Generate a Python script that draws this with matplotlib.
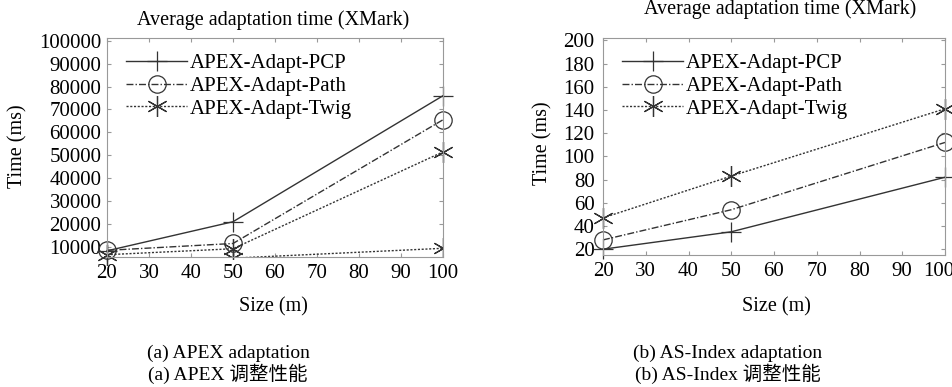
import numpy as np
import matplotlib
matplotlib.use('Agg')
import matplotlib.pyplot as plt
from matplotlib.transforms import ScaledTranslation

plt.rcParams['font.family'] = ['Liberation Serif', 'Noto Sans CJK SC']

# data
sizes = [20, 50, 100]
apex_pcp = [8300, 21000, 76000]
apex_path = [8500, 11500, 65500]
apex_twig = [6600, 9200, 51500]
apex_extra = [2500, 5100, 9400]   # the faint line near the bottom
as_pcp = [20, 35, 82]
as_path = [28, 54, 112]
as_twig = [47, 83, 141]
labels = ['APEX-Adapt-PCP', 'APEX-Adapt-Path', 'APEX-Adapt-Twig']
xticks = [20, 30, 40, 50, 60, 70, 80, 90, 100]

W, H = 953, 387
fig = plt.figure(figsize=(W / 100, H / 100), dpi=100)

star = (6, 2, 0)
styles = [dict(ls='-', marker='+', ms=14, mew=0.9),
          dict(ls=(0, (5, 1.5, 1, 1.5)), marker='o', ms=12.5, mfc='none', mew=0.9),
          dict(ls=(0, (1.5, 1.2)), marker=star, ms=15, mew=0.9)]


def setup(ax, ylim, yticks):
    ax.set_xlim(20, 100)
    ax.set_ylim(*ylim)
    ax.set_xticks(xticks)
    ax.set_yticks(yticks)
    ax.tick_params(direction='in', top=True, right=True, labelsize=15, length=3,
                   color='#999999')
    ax.tick_params(axis='x', pad=5)
    ax.tick_params(axis='y', pad=4)
    for s in ax.spines.values():
        s.set_color('#999999')
        s.set_linewidth(0.8)


def px_axes(l, t, r, b):
    return fig.add_axes([l / W, 1 - b / H, (r - l) / W, (b - t) / H])


# (a) APEX
ax1 = px_axes(107, 38, 443, 257)
for ys, st, lab in zip([apex_pcp, apex_path, apex_twig], styles, labels):
    ax1.plot(sizes, ys, color='#333333', lw=1.0, label=lab, clip_on=False, **st)
ax1.plot(sizes, apex_extra, color='#333333', lw=1.0, **styles[2])
setup(ax1, (5600, 101200), np.arange(10000, 100001, 10000))

# (b) AS-Index
ax2 = px_axes(603, 38, 945, 255)
for ys, st, lab in zip([as_pcp, as_path, as_twig], styles, labels):
    ax2.plot(sizes, ys, color='#333333', lw=1.0, label=lab, clip_on=False, **st)
setup(ax2, (15, 202), np.arange(20, 201, 20))
ax2.tick_params(axis='y', pad=6)

# last x label on the right panel sits on the figure edge, nudge it in a bit
fig.canvas.draw()
lab100 = ax2.get_xticklabels()[-1]
lab100.set_transform(lab100.get_transform() + ScaledTranslation(-6 / 100, 0, fig.dpi_scale_trans))

for ax in (ax1, ax2):
    ax.legend(loc='upper left', bbox_to_anchor=(0.005, 1.01), frameon=False, fontsize=15,
              handlelength=2.9, handletextpad=0.15, labelspacing=0.15, borderaxespad=0.45)


def ftext(x, y, s, **kw):
    fig.text(x / W, 1 - y / H, s, ha='center', va='center', **kw)


ftext(273, 20, 'Average adaptation time (XMark)', fontsize=14.5)
ftext(780, 9, 'Average adaptation time (XMark)', fontsize=14.5)
ftext(18, 146, 'Time (ms)', fontsize=14.5, rotation=90)
ftext(543, 143, 'Time (ms)', fontsize=14.5, rotation=90)
ftext(273, 307, 'Size (m)', fontsize=14.5)
ftext(776, 307, 'Size (m)', fontsize=14.5)
ftext(228, 353, '(a) APEX adaptation', fontsize=14)
ftext(228, 374, '(a) APEX 调整性能', fontsize=14)
ftext(728, 353, '(b) AS-Index adaptation', fontsize=14)
ftext(728, 374, '(b) AS-Index 调整性能', fontsize=14)

fig.savefig('out.png', dpi=100)
